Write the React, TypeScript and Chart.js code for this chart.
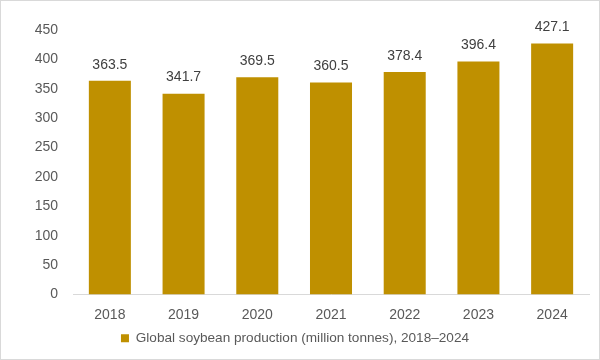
import React, { useEffect, useRef } from "react";
import { Chart, registerables } from "chart.js";

Chart.register(...registerables);

const years = ["2018", "2019", "2020", "2021", "2022", "2023", "2024"];
const production = [363.5, 341.7, 369.5, 360.5, 378.4, 396.4, 427.1];
const seriesLabel = "Global soybean production (million tonnes), 2018\u20132024";
const yTicks = [0, 50, 100, 150, 200, 250, 300, 350, 400, 450];

const FONT = "'Liberation Sans', Arial, sans-serif";
const TEXT = "#595959";
const GOLD = "#BF9000";
const FS = 14;

const labelPlugin = {
  id: "valueLabels",
  afterDatasetsDraw(chart: any) {
    const ctx = chart.ctx;
    const meta = chart.getDatasetMeta(0);
    const data = chart.data.datasets[0].data;
    ctx.save();
    ctx.font = `${FS}px ${FONT}`;
    ctx.fillStyle = "#404040";
    ctx.textAlign = "center";
    ctx.textBaseline = "middle";
    meta.data.forEach((bar: any, i: number) => {
      ctx.fillText(Number(data[i]).toFixed(1), bar.x, bar.y - 16);
    });
    ctx.restore();
  },
};

export default function App() {
  const ref = useRef<HTMLCanvasElement>(null);
  useEffect(() => {
    document.body.style.margin = "0";
    const chart = new Chart(ref.current!, {
      type: "bar",
      data: {
        labels: years,
        datasets: [
          {
            label: seriesLabel,
            data: production,
            backgroundColor: GOLD,
            categoryPercentage: 1,
            barPercentage: 0.57,
          },
        ],
      },
      options: {
        animation: false,
        responsive: false,
        maintainAspectRatio: false,
        layout: { padding: { top: 29, right: 10, left: 0, bottom: 4 } },
        plugins: {
          legend: {
            position: "bottom",
            labels: {
              font: { family: FONT, size: 13.6 },
              color: TEXT,
              boxWidth: 8,
              boxHeight: 8,
              padding: 5,
            },
          },
          tooltip: { enabled: false },
        },
        scales: {
          x: {
            grid: { display: false, drawTicks: false },
            border: { display: true, color: "#d9d9d9", width: 1 },
            ticks: { font: { family: FONT, size: FS }, color: TEXT, padding: 12 },
            afterFit(scale: any) {
              scale.height = 32;
            },
          },
          y: {
            min: 0,
            max: 450,
            afterBuildTicks(scale: any) {
              scale.ticks = yTicks.map((v) => ({ value: v }));
            },
            grid: { display: false, drawTicks: false },
            border: { display: false },
            ticks: { font: { family: FONT, size: FS }, color: TEXT, padding: 15 },
            afterFit(scale: any) {
              scale.width = 72;
            },
          },
        },
      },
      plugins: [labelPlugin],
    });
    return () => chart.destroy();
  }, []);
  return (
    <div
      style={{
        width: 600,
        height: 360,
        boxSizing: "border-box",
        border: "1px solid #d9d9d9",
        background: "#fff",
      }}
    >
      <canvas ref={ref} width={598} height={358} style={{ display: "block" }} />
    </div>
  );
}
